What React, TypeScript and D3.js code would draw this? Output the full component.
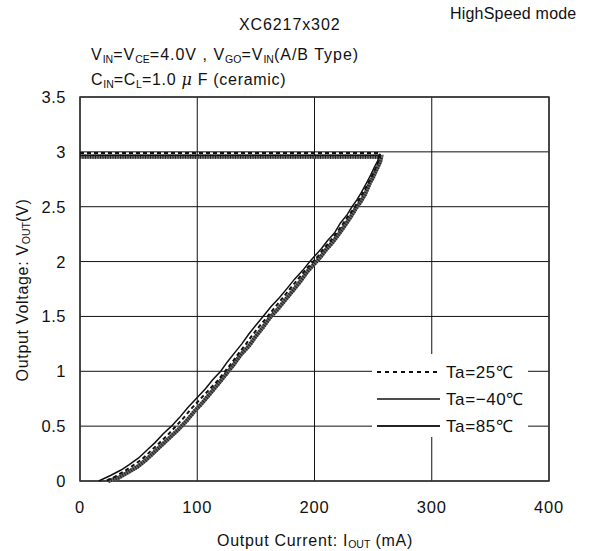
import React from "react";
import * as d3 from "d3";

// Output current (mA) and output voltage (V) per temperature
const iout25 = [0, 256, 255, 252, 249, 246, 241, 237, 234, 229, 224, 218, 213, 208, 203, 198, 192, 186, 179, 173, 166, 160, 153, 147, 141, 135, 129, 123, 117, 110, 102, 95, 88, 81, 74, 67, 60, 53, 45, 38, 30, 22];
const vout25 = [2.99, 2.99, 2.93, 2.85, 2.78, 2.72, 2.62, 2.55, 2.49, 2.42, 2.34, 2.25, 2.18, 2.12, 2.05, 1.99, 1.92, 1.84, 1.75, 1.67, 1.58, 1.5, 1.41, 1.33, 1.24, 1.16, 1.07, 0.99, 0.91, 0.83, 0.74, 0.66, 0.57, 0.49, 0.41, 0.34, 0.27, 0.2, 0.14, 0.09, 0.04, 0];

const ioutM40 = [0, 255, 254, 251, 248, 245, 240, 236, 232, 228, 222, 217, 211, 206, 201, 196, 190, 183, 177, 170, 163, 157, 150, 144, 138, 132, 126, 120, 113, 107, 99, 92, 85, 78, 71, 64, 57, 50, 42, 35, 26, 16];
const voutM40 = [2.97, 2.97, 2.92, 2.86, 2.79, 2.73, 2.63, 2.56, 2.5, 2.43, 2.35, 2.26, 2.19, 2.12, 2.06, 2.0, 1.92, 1.84, 1.76, 1.67, 1.59, 1.51, 1.42, 1.34, 1.25, 1.17, 1.09, 1.0, 0.92, 0.84, 0.75, 0.67, 0.58, 0.5, 0.43, 0.35, 0.28, 0.21, 0.15, 0.1, 0.05, 0];

const iout85 = [0, 257, 256, 253, 250, 247, 243, 239, 235, 231, 226, 220, 215, 210, 205, 200, 194, 188, 182, 175, 169, 162, 156, 150, 144, 137, 131, 125, 119, 112, 105, 98, 91, 84, 77, 70, 63, 56, 49, 41, 33, 24];
const vout85 = [2.955, 2.955, 2.91, 2.84, 2.77, 2.71, 2.61, 2.54, 2.48, 2.41, 2.33, 2.24, 2.17, 2.11, 2.04, 1.98, 1.91, 1.82, 1.74, 1.65, 1.57, 1.49, 1.4, 1.32, 1.23, 1.15, 1.06, 0.98, 0.9, 0.81, 0.72, 0.64, 0.55, 0.47, 0.4, 0.33, 0.26, 0.19, 0.13, 0.08, 0.03, 0];

const xTicks = [0, 100, 200, 300, 400];
const yTicks = [0, 0.5, 1, 1.5, 2, 2.5, 3, 3.5];
const legendLabels = ["Ta=25℃", "Ta=−40℃", "Ta=85℃"];

const FONT = "'Liberation Sans', Arial, sans-serif";

export default function App() {
  const x = d3.scaleLinear().domain([0, 400]).range([80, 549]);
  const y = d3.scaleLinear().domain([0, 3.5]).range([481, 97]);
  const line = d3
    .line<[number, number]>()
    .x((d) => x(d[0]))
    .y((d) => y(d[1]));
  const zip = (a: number[], b: number[]) => a.map((v, i) => [v, b[i]] as [number, number]);
  const p25 = line(zip(iout25, vout25)) || "";
  const pM40 = line(zip(ioutM40, voutM40)) || "";
  const p85 = line(zip(iout85, vout85)) || "";

  const legendRowsY = [372, 399, 426];

  return (
    <svg
      width={592}
      height={551}
      style={{ position: "absolute", left: 0, top: 0, background: "#fff" }}
      fontFamily={FONT}
    >
      <rect x={0} y={0} width={592} height={551} fill="#fff" />
      {/* titles */}
      <text x={450} y={19} fontSize={16} fill="#111" letterSpacing={0.2}>HighSpeed mode</text>
      <text x={239} y={30} fontSize={16} fill="#111" letterSpacing={0.9}>XC6217x302</text>
      <text x={91} y={60} fontSize={16} fill="#111" letterSpacing={1}>
        V<tspan fontSize={10.5} dy={3} letterSpacing={0}>IN</tspan>
        <tspan dy={-3}>=V</tspan>
        <tspan fontSize={10.5} dy={3} letterSpacing={0}>CE</tspan>
        <tspan dy={-3}>=4.0V , V</tspan>
        <tspan fontSize={10.5} dy={3} letterSpacing={0}>GO</tspan>
        <tspan dy={-3}>=V</tspan>
        <tspan fontSize={10.5} dy={3} letterSpacing={0}>IN</tspan>
        <tspan dy={-3}>(A/B Type)</tspan>
      </text>
      <text x={91} y={85} fontSize={16} fill="#111" letterSpacing={0.7}>
        C<tspan fontSize={10.5} dy={3} letterSpacing={0}>IN</tspan>
        <tspan dy={-3}>=C</tspan>
        <tspan fontSize={10.5} dy={3} letterSpacing={0}>L</tspan>
        <tspan dy={-3}>=1.0 </tspan>
        <tspan fontStyle="italic" fontFamily="'DejaVu Serif', serif">μ</tspan>
        <tspan> F (ceramic)</tspan>
      </text>

      {/* grid */}
      {yTicks.map((t) => (
        <line key={"gy" + t} x1={x(0)} x2={x(400)} y1={y(t)} y2={y(t)} stroke="#111" strokeWidth={1} />
      ))}
      {xTicks.map((t) => (
        <line key={"gx" + t} x1={x(t)} x2={x(t)} y1={y(0)} y2={y(3.5)} stroke="#111" strokeWidth={1} />
      ))}
      <rect x={x(0)} y={y(3.5)} width={x(400) - x(0)} height={y(0) - y(3.5)} fill="none" stroke="#333" strokeWidth={1.5} />

      {/* tick labels */}
      {yTicks.map((t) => (
        <text key={"ly" + t} x={66} y={y(t)} dy="0.36em" fontSize={16.5} textAnchor="end" fill="#111" letterSpacing={0.5}>
          {t}
        </text>
      ))}
      {xTicks.map((t) => (
        <text key={"lx" + t} x={x(t)} y={513} fontSize={16.5} textAnchor="middle" fill="#111" letterSpacing={0.8}>
          {t}
        </text>
      ))}

      {/* axis titles */}
      <text x={315} y={546} fontSize={16} textAnchor="middle" fill="#111" letterSpacing={0.7}>
        Output Current: I<tspan fontSize={10.5} dy={2} letterSpacing={0}>OUT</tspan>
        <tspan dy={-2}> (mA)</tspan>
      </text>
      <text transform="translate(28,290) rotate(-90)" fontSize={16} textAnchor="middle" fill="#111" letterSpacing={0.7}>
        Output Voltage: V<tspan fontSize={10.5} dy={2} letterSpacing={0}>OUT</tspan>
        <tspan dy={-2}>(V)</tspan>
      </text>

      {/* curves */}
      <path d={p85} fill="none" stroke="#666" strokeWidth={4} />
      <path d={p85} fill="none" stroke="#222" strokeWidth={4} strokeDasharray="1 1.5" />
      <path d={pM40} fill="none" stroke="#111" strokeWidth={1.5} />
      <path d={p25} fill="none" stroke="#111" strokeWidth={2} strokeDasharray="4 3" />

      {/* legend */}
      <rect x={372} y={354} width={156} height={83} fill="#fff" />
      <line x1={377} x2={440} y1={legendRowsY[0]} y2={legendRowsY[0]} stroke="#111" strokeWidth={2} strokeDasharray="4 4" />
      <line x1={377} x2={440} y1={legendRowsY[1]} y2={legendRowsY[1]} stroke="#111" strokeWidth={1.5} />
      <line x1={377} x2={440} y1={legendRowsY[2]} y2={legendRowsY[2]} stroke="#222" strokeWidth={2} />
      {legendLabels.map((l, i) => (
        <text key={l} x={446} y={legendRowsY[i]} dy="0.36em" fontSize={17} fill="#111" letterSpacing={0.6}>
          {l}
        </text>
      ))}
    </svg>
  );
}
